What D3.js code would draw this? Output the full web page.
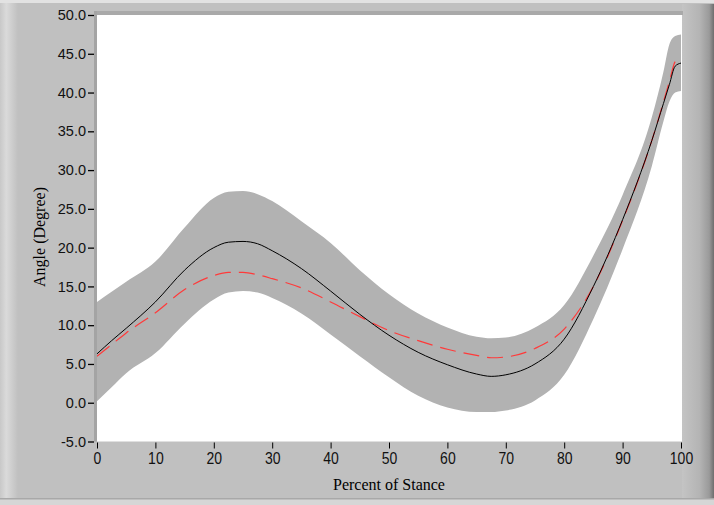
<!DOCTYPE html>
<html>
<head>
<meta charset="utf-8">
<script src="https://cdn.jsdelivr.net/npm/d3@7"></script>
<style>
  body { margin: 0; background: #c0c0c0; }
  svg { display: block; }
</style>
</head>
<body>
<div id="chart"></div>
<script>
// knee angle over stance phase: mean, reference and +/- sd band

const FRAME_WIDTH = 714;
const FRAME_HEIGHT = 505;
const PLOT = {left: 97, right: 681, top: 15, bottom: 441.5};

// percent of stance
const stance = [0, 2.5, 5, 10, 15, 20, 22.5, 25, 27.5, 30, 35, 40, 45, 50, 55, 60,
                65, 67.5, 70, 75, 80, 85, 90, 95, 97, 98, 99, 100];
// black solid line
const meanAngle = [6.3, 8.0, 9.6, 13.0, 17.1, 20.0, 20.7, 20.8, 20.5, 19.6, 17.3, 14.4,
                   11.4, 8.7, 6.5, 4.9, 3.7, 3.4, 3.6, 5.0, 8.2, 15.0, 23.6, 33.8,
                   38.6, 41.0, 43.4, 43.8];
// red dashed line
const refAngle = [6.0, 7.5, 9.0, 11.6, 14.6, 16.4, 16.8, 16.8, 16.5, 16.0, 14.8, 13.0,
                  11.1, 9.3, 8.0, 6.9, 6.1, 5.8, 5.9, 7.0, 9.5, 15.0, 23.5, 33.8,
                  38.8, 41.4, 44.0, 44.6];
// grey band edges
const bandUpper = [13.0, 14.3, 15.6, 18.2, 22.6, 26.4, 27.2, 27.3, 26.9, 26.0, 23.4, 20.6,
                   17.1, 14.0, 11.5, 9.7, 8.5, 8.3, 8.4, 9.7, 12.6, 19.0, 26.8, 36.8,
                   42.7, 46.2, 47.3, 47.5];
const bandLower = [0.2, 2.0, 3.8, 6.4, 10.2, 13.3, 14.2, 14.4, 14.2, 13.5, 11.5, 8.8,
                   6.0, 3.3, 0.9, -0.6, -1.2, -1.2, -1.0, 0.3, 3.6, 10.8, 19.8, 30.5,
                   36.3, 38.8, 40.0, 40.2];

const xTicks = [0, 10, 20, 30, 40, 50, 60, 70, 80, 90, 100];
const yTicks = [-5, 0, 5, 10, 15, 20, 25, 30, 35, 40, 45, 50];

const rows = stance.map((s, i) => ({
	x: s, mean: meanAngle[i], ref: refAngle[i], hi: bandUpper[i], lo: bandLower[i]
}));

const svg = d3.select('#chart')
			.append('svg')
				.attr('width', FRAME_WIDTH)
				.attr('height', FRAME_HEIGHT);

const defs = svg.append('defs');
const gLeft = defs.append('linearGradient').attr('id', 'gLeft');
gLeft.append('stop').attr('offset', '0%').attr('stop-color', '#c8c8c8');
gLeft.append('stop').attr('offset', '35%').attr('stop-color', '#dadada');
gLeft.append('stop').attr('offset', '100%').attr('stop-color', '#c0c0c0');
const gRight = defs.append('linearGradient').attr('id', 'gRight');
gRight.append('stop').attr('offset', '0%').attr('stop-color', '#c4c4c4');
gRight.append('stop').attr('offset', '55%').attr('stop-color', '#b4b4b4');
gRight.append('stop').attr('offset', '85%').attr('stop-color', '#9a9a9a');
gRight.append('stop').attr('offset', '100%').attr('stop-color', '#6e6e6e');

// panel frame
svg.append('rect').attr('width', FRAME_WIDTH).attr('height', FRAME_HEIGHT).attr('fill', '#c0c0c0');
svg.append('rect').attr('x', 0).attr('y', 0).attr('width', 18).attr('height', 500).attr('fill', 'url(#gLeft)');
svg.append('rect').attr('x', 0).attr('y', 0).attr('width', FRAME_WIDTH).attr('height', 3).attr('fill', '#e2e2e2');
svg.append('rect').attr('x', 0).attr('y', 498).attr('width', FRAME_WIDTH).attr('height', 7).attr('fill', '#d6d6d6');
svg.append('rect').attr('x', 0).attr('y', 498).attr('width', FRAME_WIDTH).attr('height', 1.5).attr('fill', '#a8a8a8');
svg.append('rect').attr('x', PLOT.right + 1).attr('y', 4).attr('width', FRAME_WIDTH - PLOT.right - 1)
	.attr('height', 494).attr('fill', 'url(#gRight)');
svg.append('rect').attr('x', PLOT.left - 3).attr('y', 11).attr('width', PLOT.right - PLOT.left + 5)
	.attr('height', 4).attr('fill', '#a9a9a9');
svg.append('rect').attr('x', PLOT.left - 3).attr('y', 11).attr('width', 3)
	.attr('height', PLOT.bottom - 11).attr('fill', '#a4a4a4');

// plot area
svg.append('rect')
	.attr('x', PLOT.left).attr('y', PLOT.top)
	.attr('width', PLOT.right - PLOT.left + 1).attr('height', PLOT.bottom - PLOT.top)
	.attr('fill', '#ffffff');

const xscale = d3.scaleLinear().domain([0, 100]).range([PLOT.left, PLOT.right]);
const yscale = d3.scaleLinear().domain([-5, 50]).range([PLOT.bottom, PLOT.top]);

defs.append('clipPath').attr('id', 'plotClip')
	.append('rect')
		.attr('x', PLOT.left).attr('y', PLOT.top)
		.attr('width', PLOT.right - PLOT.left + 1).attr('height', PLOT.bottom - PLOT.top);

const plot = svg.append('g').attr('clip-path', 'url(#plotClip)');

const curve = d3.curveMonotoneX;

plot.append('path')
	.datum(rows)
	.attr('fill', '#b2b2b2')
	.attr('d', d3.area()
		.x((d) => xscale(d.x))
		.y0((d) => yscale(d.lo))
		.y1((d) => yscale(d.hi))
		.curve(curve));

plot.append('path')
	.datum(rows)
	.attr('fill', 'none')
	.attr('stroke', '#ff3a3a')
	.attr('stroke-width', 1.2)
	.attr('stroke-dasharray', '16,8')
	.attr('d', d3.line().x((d) => xscale(d.x)).y((d) => yscale(d.ref)).curve(curve));

plot.append('path')
	.datum(rows)
	.attr('fill', 'none')
	.attr('stroke', '#000000')
	.attr('stroke-width', 1)
	.attr('d', d3.line().x((d) => xscale(d.x)).y((d) => yscale(d.mean)).curve(curve));

// axes
const fmt = (v) => d3.format('.1f')(v).replace('\u2212', '-');

const yAxis = svg.append('g')
	.attr('transform', 'translate(' + (PLOT.left - 3) + ',0)')
	.call(d3.axisLeft(yscale).tickValues(yTicks).tickFormat(fmt).tickSize(6).tickPadding(2));
yAxis.select('.domain').remove();
yAxis.selectAll('line').attr('stroke', '#000').attr('stroke-width', 1.3);
yAxis.selectAll('text')
	.attr('font-family', '"Liberation Sans", Arial, sans-serif')
	.attr('font-size', '14.5px')
	.attr('fill', '#111');

const xAxis = svg.append('g')
	.attr('transform', 'translate(0,' + (PLOT.bottom + 1) + ')')
	.call(d3.axisBottom(xscale).tickValues(xTicks).tickSize(6).tickPadding(3));
xAxis.select('.domain').remove();
xAxis.selectAll('line').attr('stroke', '#000').attr('stroke-width', 1);
xAxis.selectAll('text')
	.attr('font-family', '"Liberation Sans", Arial, sans-serif')
	.attr('font-size', '14px')
	.attr('fill', '#111')
	.attr('y', 0)
	.attr('dy', 0)
	.attr('transform', 'translate(0,21) scale(1,1.22)');

svg.append('text')
	.attr('x', (PLOT.left + PLOT.right) / 2)
	.attr('y', 490)
	.attr('text-anchor', 'middle')
	.attr('font-family', '"Liberation Serif", "Times New Roman", serif')
	.attr('font-size', '16px')
	.text('Percent of Stance');

svg.append('text')
	.attr('transform', 'translate(45,237) rotate(-90)')
	.attr('text-anchor', 'middle')
	.attr('font-family', '"Liberation Serif", "Times New Roman", serif')
	.attr('font-size', '16px')
	.text('Angle (Degree)');
</script>
</body>
</html>
